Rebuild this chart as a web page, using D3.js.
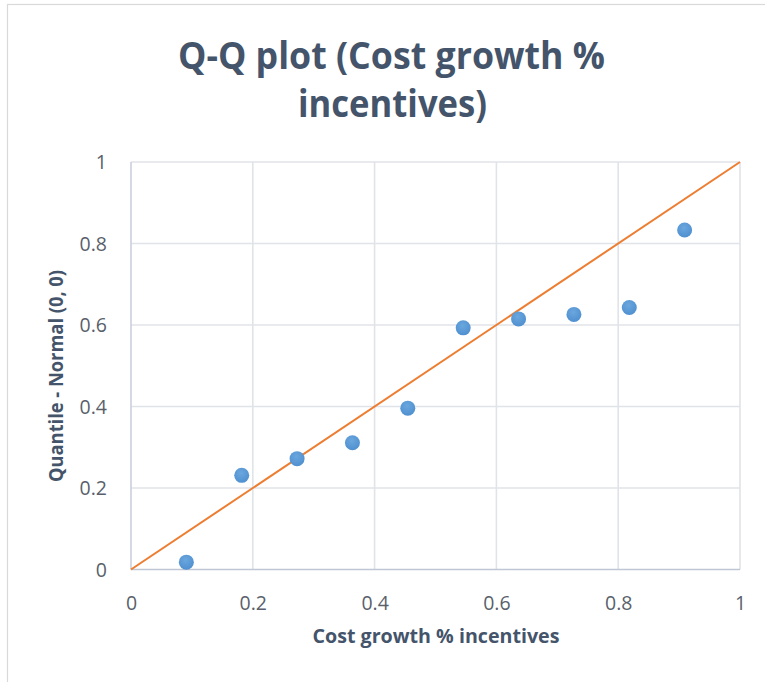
<!DOCTYPE html>
<html>
<head>
<meta charset="utf-8">
<script src="https://cdn.jsdelivr.net/npm/d3@7"></script>
<style>
  html, body { margin: 0; padding: 0; background: #fff; }
  svg { display: block; }
</style>
</head>
<body>
<script>
// ---- data ----
const titleLines = ["Q-Q plot (Cost growth %", "incentives)"];
const xAxisTitle = "Cost growth % incentives";
const yAxisTitle = "Quantile - Normal (0, 0)";
const xValues = [0.0909, 0.1818, 0.2727, 0.3636, 0.4545, 0.5455, 0.6364, 0.7273, 0.8182, 0.9091];
const yValues = [0.018, 0.231, 0.272, 0.311, 0.396, 0.593, 0.615, 0.626, 0.643, 0.833];
const refLine = [[0, 0], [1, 1]];
const xTicks = [0, 0.2, 0.4, 0.6, 0.8, 1];
const yTicks = [0, 0.2, 0.4, 0.6, 0.8, 1];

// ---- layout ----
const W = 765, H = 682;
const plot = { left: 131, right: 740, top: 162, bottom: 569.5 };
const font = "'Open Sans', 'Noto Sans', sans-serif";
const titleColor = "#44546A";
const tickColor = "#595F6B";

const svg = d3.select("body").append("svg").attr("width", W).attr("height", H);

// chart border (only top and left edges visible in frame)
svg.append("rect").attr("x", 7.5).attr("y", 4.5).attr("width", W + 20).attr("height", H + 20)
  .attr("fill", "#fff").attr("stroke", "#D9D9D9").attr("stroke-width", 1.2);

const x = d3.scaleLinear().domain([0, 1]).range([plot.left, plot.right]);
const y = d3.scaleLinear().domain([0, 1]).range([plot.bottom, plot.top]);

function squeeze(sel, size, target) {
  sel.attr("font-size", size).attr("textLength", target).attr("lengthAdjust", "spacingAndGlyphs");
}

// gridlines
const grid = svg.append("g");
grid.selectAll("line.h").data(yTicks.filter(d => d > 0)).join("line")
  .attr("x1", plot.left).attr("x2", plot.right)
  .attr("y1", d => y(d)).attr("y2", d => y(d))
  .attr("stroke", "#E0E3E8").attr("stroke-width", 1.6);
grid.selectAll("line.v").data(xTicks).join("line")
  .attr("y1", plot.top).attr("y2", plot.bottom)
  .attr("x1", d => x(d)).attr("x2", d => x(d))
  .attr("stroke", d => d === 0 ? "#C9D0DC" : "#E0E3E8").attr("stroke-width", 1.6);
// x axis line
svg.append("line").attr("x1", plot.left).attr("x2", plot.right)
  .attr("y1", y(0)).attr("y2", y(0)).attr("stroke", "#BFC7D5").attr("stroke-width", 1.6);

// axes (labels only)
const xAxis = d3.axisBottom(x).tickValues(xTicks).tickFormat(d3.format("")).tickSize(0).tickPadding(0);
const gx = svg.append("g").attr("transform", `translate(0,${plot.bottom})`).call(xAxis);
gx.select(".domain").remove();
gx.selectAll("text").attr("font-family", font).attr("font-size", 19.5).attr("fill", tickColor)
  .attr("dy", null).attr("y", 40);

const yAxis = d3.axisLeft(y).tickValues(yTicks).tickFormat(d3.format("")).tickSize(0).tickPadding(0);
const gy = svg.append("g").attr("transform", `translate(107,0)`).call(yAxis);
gy.select(".domain").remove();
gy.selectAll("text").attr("font-family", font).attr("font-size", 19.5).attr("fill", tickColor)
  .attr("dy", "0.35em").attr("x", 0);

// reference line
svg.append("path").datum(refLine)
  .attr("d", d3.line().x(d => x(d[0])).y(d => y(d[1])))
  .attr("fill", "none").attr("stroke", "#ED7D31").attr("stroke-width", 2);

// marker gradient
const defs = svg.append("defs");
const rg = defs.append("radialGradient").attr("id", "mk").attr("cx", "45%").attr("cy", "35%").attr("r", "70%");
rg.append("stop").attr("offset", "0%").attr("stop-color", "#6BA7DE");
rg.append("stop").attr("offset", "100%").attr("stop-color", "#4D8ECF");

svg.append("g").selectAll("circle").data(xValues.map((v, i) => [v, yValues[i]])).join("circle")
  .attr("cx", d => x(d[0])).attr("cy", d => y(d[1])).attr("r", 7.5)
  .attr("fill", "url(#mk)");

// title
const t1 = svg.append("text").attr("x", 391.5).attr("y", 69).attr("text-anchor", "middle")
  .attr("font-family", font).attr("font-weight", 700).attr("fill", titleColor).text(titleLines[0]);
squeeze(t1, 37, 427);
const t2 = svg.append("text").attr("x", 392.5).attr("y", 117).attr("text-anchor", "middle")
  .attr("font-family", font).attr("font-weight", 700).attr("fill", titleColor).text(titleLines[1]);
squeeze(t2, 37, 189);

// axis titles
const xt = svg.append("text").attr("x", 436).attr("y", 643).attr("text-anchor", "middle")
  .attr("font-family", font).attr("font-weight", 700).attr("fill", titleColor).text(xAxisTitle);
squeeze(xt, 19.5, 247);
const yt = svg.append("text").attr("transform", "translate(63,376) rotate(-90)").attr("text-anchor", "middle")
  .attr("font-family", font).attr("font-weight", 700).attr("fill", titleColor).text(yAxisTitle);
squeeze(yt, 19, 212);
</script>
</body>
</html>
